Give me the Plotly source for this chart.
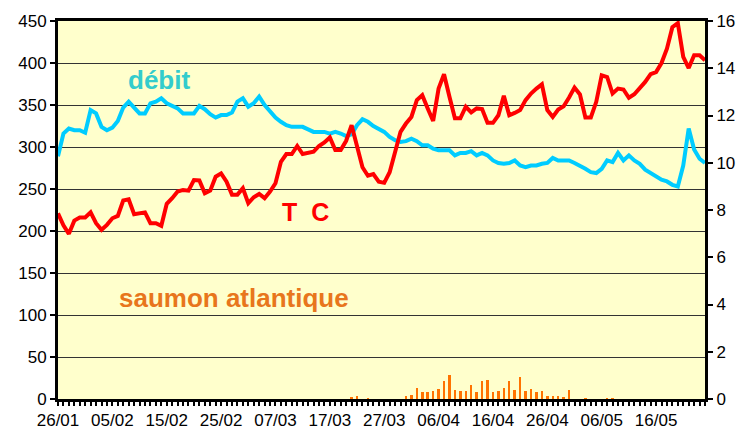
import plotly.graph_objects as go

# day index 0 = 26/01, 119 = 25/05
tick_labels = ["26/01", "05/02", "15/02", "25/02", "07/03", "17/03",
               "27/03", "06/04", "16/04", "26/04", "06/05", "16/05"]
tick_days = [0, 10, 20, 30, 40, 50, 60, 70, 80, 90, 100, 110]

debit = [289, 316, 322, 320, 320, 317, 344, 340, 324, 320,
         323, 331, 347, 354, 347, 340, 340, 352, 354, 358,
         352, 349, 346, 340, 340, 340, 349, 345, 339, 335,
         338, 338, 341, 354, 358, 348, 352, 360, 350, 342,
         335, 330, 326, 324, 324, 324, 321, 318, 318, 318,
         316, 318, 316, 313, 315, 326, 333, 330, 325, 321,
         318, 312, 308, 306, 307, 310, 307, 302, 302, 298,
         296, 296, 296, 290, 293, 293, 295, 290, 293, 290,
         284, 281, 280, 281, 284, 278, 276, 278, 278, 280,
         281, 287, 284, 284, 284, 281, 278, 274, 270, 269,
         274, 284, 282, 293, 284, 290, 284, 280, 273, 269,
         265, 261, 259, 255, 253, 278, 322, 297, 286, 281]

temperature = [7.86, 7.35, 6.99, 7.55, 7.68, 7.68, 7.90, 7.44, 7.16, 7.37,
               7.65, 7.75, 8.40, 8.45, 7.82, 7.86, 7.90, 7.44, 7.44, 7.33,
               8.26, 8.50, 8.78, 8.85, 8.82, 9.27, 9.25, 8.71, 8.82, 9.41,
               9.55, 9.20, 8.65, 8.65, 8.92, 8.29, 8.54, 8.68, 8.50, 8.78,
               9.13, 10.04, 10.37, 10.37, 10.71, 10.37, 10.42, 10.47, 10.71, 10.86,
               11.07, 10.54, 10.54, 10.93, 11.59, 10.75, 9.81, 9.45, 9.52, 9.20,
               9.15, 9.60, 10.40, 11.31, 11.66, 11.94, 12.65, 12.86, 12.30, 11.77,
               13.14, 13.75, 12.79, 11.88, 11.88, 12.37, 12.13, 12.30, 12.27, 11.69,
               11.69, 12.01, 12.83, 12.01, 12.11, 12.23, 12.65, 12.93, 13.14, 13.32,
               12.23, 11.94, 12.25, 12.39, 12.76, 13.18, 12.89, 11.92, 11.92, 12.58,
               13.70, 13.63, 12.93, 13.14, 13.10, 12.75, 12.90, 13.14, 13.42, 13.75,
               13.84, 14.22, 14.83, 15.74, 15.91, 14.48, 14.01, 14.55, 14.55, 14.34]

salmon_days = [54, 55, 57, 64, 65, 66, 67, 68, 69, 70, 71, 72, 73, 74, 75, 76, 77,
               78, 79, 80, 81, 82, 83, 84, 85, 86, 87, 88, 89, 90, 91, 92, 93, 94,
               97, 101, 102]
salmon_counts = [2, 3, 1, 3, 5, 13, 8, 8, 10, 12, 21, 28, 11, 9, 10, 17, 8,
                 21, 23, 8, 10, 13, 21, 11, 26, 9, 12, 8, 9, 4, 4, 4, 2, 11,
                 1, 1, 1]

days = list(range(len(debit)))

fig = go.Figure()
fig.add_trace(go.Bar(x=salmon_days, y=salmon_counts, width=0.45,
                     marker=dict(color="#FF7300", line=dict(width=0)),
                     yaxis="y", showlegend=False))
fig.add_trace(go.Scatter(x=days, y=debit, mode="lines",
                         line=dict(color="#00CCFF", width=4),
                         yaxis="y", showlegend=False))
fig.add_trace(go.Scatter(x=days, y=temperature, mode="lines",
                         line=dict(color="#FF0000", width=4),
                         yaxis="y2", showlegend=False))

font_family = "Liberation Sans, Arial, sans-serif"

# the page body has an 8px default margin: shrink the figure to compensate
OFF = 8
W, H = 745 - OFF, 430 - OFF
L, R, T, B = 58 - OFF, 40, 21 - OFF, 31
pw, ph = W - L - R, H - T - B


def px_to_paper(px, py):
    px -= OFF
    py -= OFF
    return (px - L) / pw, 1 - (py - T) / ph


ann_specs = [
    ("<b>débit</b>", 159, 80, 26, "#33CCCC"),
    ("<b>T  C</b>", 305, 212, 25, "#FF0000"),
    ("<b>saumon atlantique</b>", 234, 298, 26, "#E8761C"),
]
annotations = []
for text, px, py, size, color in ann_specs:
    ax, ay = px_to_paper(px, py)
    annotations.append(dict(x=ax, y=ay, xref="paper", yref="paper", text=text,
                            showarrow=False, xanchor="center", yanchor="middle",
                            font=dict(size=size, color=color, family=font_family)))

fig.update_layout(
    width=W, height=H,
    margin=dict(l=L, r=R, t=T, b=B),
    paper_bgcolor="white",
    plot_bgcolor="#FFFFCC",
    font=dict(family=font_family, size=17, color="black"),
    bargap=0,
    xaxis=dict(range=[0, 119], tickmode="array", tickvals=tick_days,
               ticktext=tick_labels, showgrid=False, zeroline=False,
               showline=True, linecolor="black", linewidth=3, mirror=True,
               ticks="outside", ticklen=4, tickwidth=2, tickcolor="black",
               minor=dict(dtick=1, tick0=0, ticks="outside", ticklen=4,
                          tickwidth=2, tickcolor="black", showgrid=False),
               tickfont=dict(size=17), automargin=False),
    yaxis=dict(range=[0, 450], dtick=50, showgrid=True, gridcolor="#333333",
               gridwidth=1, zeroline=False, showline=True, linecolor="black",
               linewidth=3, ticks="outside", ticklen=5, tickwidth=2,
               tickcolor="black", tickfont=dict(size=17), automargin=False),
    yaxis2=dict(range=[0, 16], dtick=2, overlaying="y", side="right",
                showgrid=False, zeroline=False, showline=True,
                linecolor="black", linewidth=3, ticks="outside", ticklen=5,
                tickwidth=2, tickcolor="black", tickfont=dict(size=17),
                automargin=False),
    annotations=annotations,
)

fig.write_html("out.html")
